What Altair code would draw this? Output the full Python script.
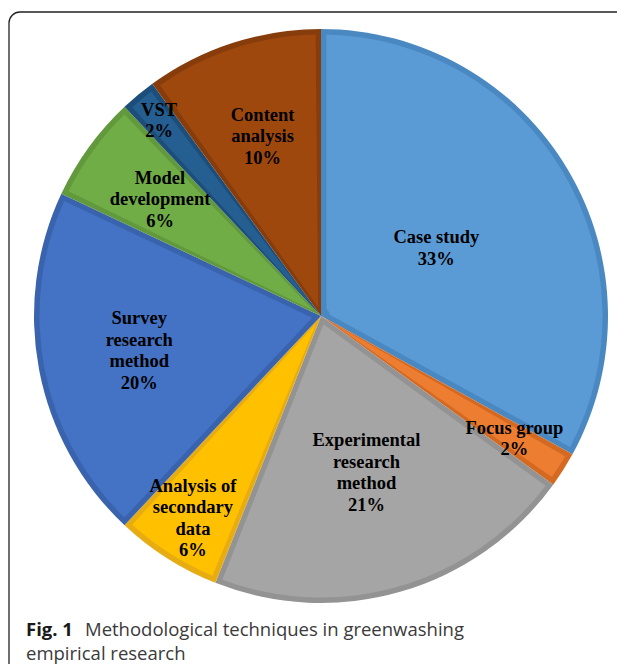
import altair as alt
import pandas as pd

# ---- data ----
categories = ["Case study", "Focus group", "Experimental research method",
              "Analysis of secondary data", "Survey research method",
              "Model development", "VST", "Content analysis"]
label_texts = ["Case study\n33%", "Focus group\n2%", "Experimental\nresearch\nmethod\n21%",
               "Analysis of\nsecondary\ndata\n6%", "Survey\nresearch\nmethod\n20%",
               "Model\ndevelopment\n6%", "VST\n2%", "Content\nanalysis\n10%"]
values = [33, 2, 21, 6, 20, 6, 2, 10]
caption_bold = "Fig. 1"
caption_line1 = "Methodological techniques in greenwashing"
caption_line2 = "empirical research"

# ---- styles ----
fills = ["#5B9BD5", "#ED7D31", "#A5A5A5", "#FFC000", "#4472C4", "#70AD47", "#255E91", "#9E480E"]
borders = ["#4A88C2", "#D46A22", "#939393", "#E6AC12", "#3A63AE", "#61993C", "#1D4E7A", "#873C0B"]
label_radius = [134, 229, 163, 239, 185, 199, 254, 189]  # label placement (px from centre)

df = pd.DataFrame({
    "cat": categories,
    "value": values,
    "order": list(range(len(categories))),
    "label": label_texts,
    "fill": fills,
    "border": borders,
    "lr": label_radius,
})

CX, CY, R = 313, 308, 287
W, H = 609, 656
LH = 21.5

base = alt.Chart(df).encode(
    theta=alt.Theta("value:Q", stack=True),
    order=alt.Order("order:Q"),
    detail="cat:N",
    x=alt.value(CX),
    y=alt.value(CY),
)

dark = base.mark_arc(outerRadius=R).encode(
    color=alt.Color("border:N", scale=None)
)
light = base.mark_arc(outerRadius=R - 5.5, innerRadius=9, padAngle=0.038).encode(
    color=alt.Color("fill:N", scale=None)
)
pie = alt.layer(dark, light)

labels = alt.Chart(df).transform_window(
    cum="sum(value)", sort=[alt.SortField("order")], frame=[None, 0]
).transform_joinaggregate(
    total="sum(value)"
).transform_calculate(
    ang="2 * PI * (datum.cum - datum.value / 2) / datum.total",
    nlines="length(split(datum.label, '\\n'))",
).transform_calculate(
    px=f"{CX} + datum.lr * sin(datum.ang)",
    py=f"{CY} - datum.lr * cos(datum.ang) - (datum.nlines - 1) * {LH} / 2",
).mark_text(
    font="Liberation Serif", fontWeight="bold", fontSize=18.5, lineHeight=LH,
    lineBreak="\n", color="#000000", align="center", baseline="middle"
).encode(
    x=alt.X("px:Q", scale=None, axis=None),
    y=alt.Y("py:Q", scale=None, axis=None),
    text="label:N",
)

frame = alt.Chart(pd.DataFrame({"a": [0]})).mark_rect(
    fill=None, stroke="#222222", strokeWidth=1.3, cornerRadius=11
).encode(
    x=alt.value(1), x2=alt.value(W + 20), y=alt.value(4), y2=alt.value(H + 20)
)

cap_bold = alt.Chart(pd.DataFrame({"t": [caption_bold]})).mark_text(
    font="Open Sans", fontWeight="bold", fontSize=18.5, color="#1a1a1a",
    align="left", baseline="alphabetic"
).encode(text="t:N", x=alt.value(18), y=alt.value(628))

cap1 = alt.Chart(pd.DataFrame({"t": [caption_line1]})).mark_text(
    font="Open Sans", fontSize=18.5, color="#3a3a3a", align="left", baseline="alphabetic"
).encode(text="t:N", x=alt.value(77), y=alt.value(628))

cap2 = alt.Chart(pd.DataFrame({"t": [caption_line2]})).mark_text(
    font="Open Sans", fontSize=18.5, color="#3a3a3a", align="left", baseline="alphabetic"
).encode(text="t:N", x=alt.value(18), y=alt.value(652))

chart = alt.layer(frame, pie, labels, cap_bold, cap1, cap2).properties(
    width=W, height=H, autosize=alt.AutoSizeParams(type="none"), padding=0
).configure_view(stroke=None)

chart.save("out.html", embed_options={"renderer": "svg", "actions": False})
